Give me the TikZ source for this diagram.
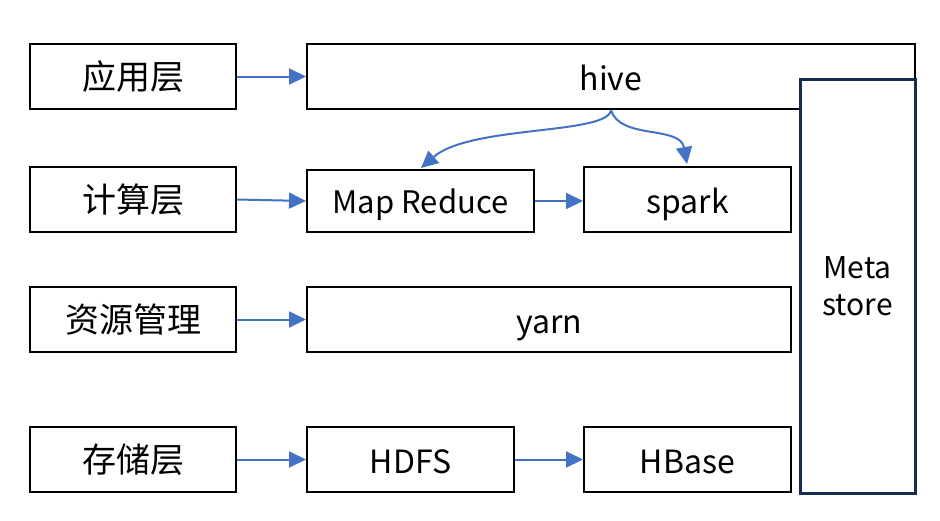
\documentclass[tikz,border=0pt]{standalone}
\usepackage{fontspec}
\setmainfont{Noto Sans CJK SC}
\usetikzlibrary{arrows.meta}
\definecolor{arrblue}{HTML}{4472C4}
\definecolor{navy}{HTML}{172C51}
\begin{document}
\begin{tikzpicture}[x=1pt,y=-1pt,
  box/.style={draw=black,line width=2pt,inner sep=0pt,font=\fontsize{34}{40}\selectfont},
  lat/.style={font=\fontsize{32}{38}\selectfont,text height=28pt,text depth=1pt},
  conn/.style={draw=arrblue,line width=2pt,-{Triangle[length=17pt,width=16pt]}}]
\useasboundingbox (0,0) rectangle (940,520);
\fill[white] (0,0) rectangle (940,520);
% left column
\node[box,minimum width=206pt,minimum height=65pt] (app) at (133,76.5) {应用层};
\node[box,minimum width=206pt,minimum height=65pt] (comp) at (133,199.5) {计算层};
\node[box,minimum width=206pt,minimum height=65pt] (res) at (133,319.5) {资源管理};
\node[box,minimum width=206pt,minimum height=65pt] (stor) at (133,459.5) {存储层};
% right side
\node[box,lat,minimum width=608pt,minimum height=65pt] (hive) at (611,76.5) {hive};
\node[box,minimum width=227pt,minimum height=62pt,font=\fontsize{31}{36}\selectfont,text height=26pt,text depth=2pt] (mr) at (420.5,201) {Map Reduce};
\node[box,lat,minimum width=207pt,minimum height=65pt] (spark) at (687.5,199.5) {spark};
\node[box,lat,minimum width=484pt,minimum height=65pt] (yarn) at (549,319.5) {yarn};
\node[box,lat,minimum width=207pt,minimum height=65pt] (hdfs) at (410.5,459.5) {HDFS};
\node[box,lat,minimum width=207pt,minimum height=65pt] (hbase) at (687.5,459.5) {HBase};
\node[draw=navy,line width=3pt,fill=white,minimum width=115pt,minimum height=414pt,inner sep=0pt,align=center,font=\fontsize{30}{37}\selectfont] (meta) at (857.5,286) {Meta\\store};
% arrows
\draw[conn] (app.east) -- (hive.west |- app.east);
\draw[conn] (comp.east) -- (mr.west);
\draw[conn] (res.east) -- (yarn.west);
\draw[conn] (stor.east) -- (hdfs.west);
\draw[conn] (mr.east) -- (spark.west |- mr.east);
\draw[conn] (hdfs.east) -- (hbase.west);
\coordinate (hb) at (611,110);
\coordinate (mrt) at (421,168);
\coordinate (spt) at (687,164);
\draw[conn] (hb) .. controls (608,135) and (470,125) .. (mrt);
\draw[conn] (hb) .. controls (620,140) and (680,125) .. (spt);
\end{tikzpicture}
\end{document}
